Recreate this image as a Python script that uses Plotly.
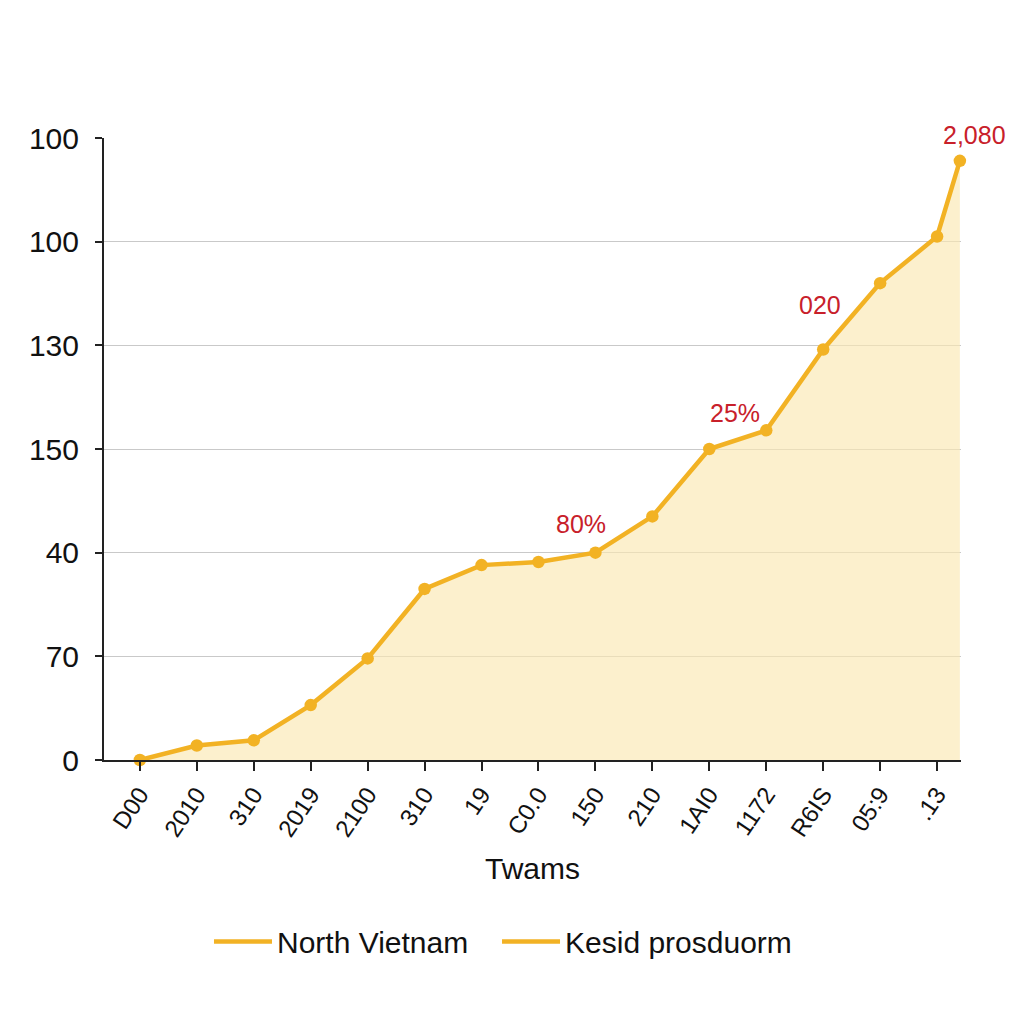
import plotly.graph_objects as go

# ---- data ----
x_pos = [0, 1, 2, 3, 4, 5, 6, 7, 8, 9, 10, 11, 12, 13, 14, 14.4]
values = [0, 14, 19, 53, 98, 165, 188, 191, 200, 235, 300, 318, 396, 460, 505, 578]
x_tick_vals = list(range(15))
x_tick_labels = ["D00", "2010", "310", "2019", "2100", "310", "19", "C0.0", "150",
                 "210", "1AI0", "1172", "R6IS", "05:9", ".13"]
y_tick_vals = [0, 100, 200, 300, 400, 500, 600]
y_tick_labels = ["0", "70", "40", "150", "130", "100", "100"]
legend_names = ["North Vietnam", "Kesid prosduorm"]
ann_text = ["80%", "25%", "020"]
ann_x = [7.75, 10.45, 11.95]
ann_y = [212, 319, 423]
top_label = "2,080"

LINE = "#F2B224"
FILL = "rgba(250,232,178,0.65)"
RED = "#C8202A"
FONT = "Liberation Sans, Arial, sans-serif"

fig = go.Figure()
fig.add_trace(go.Scatter(
    x=x_pos, y=values, mode="lines+markers",
    line=dict(color=LINE, width=4.5),
    marker=dict(color=LINE, size=12.5),
    fill="tozeroy", fillcolor=FILL,
    showlegend=False, hoverinfo="skip", cliponaxis=False,
))
legend_refs = ["legend", "legend2"]
for nm, lg in zip(legend_names, legend_refs):
    fig.add_trace(go.Scatter(x=[None], y=[None], mode="lines", name=nm, legend=lg,
                             line=dict(color=LINE, width=4.5)))

for t, ax_, ay_ in zip(ann_text, ann_x, ann_y):
    fig.add_annotation(x=ax_, y=ay_, text=t, showarrow=False,
                       font=dict(color=RED, size=25, family=FONT),
                       xanchor="center", yanchor="bottom")
fig.add_annotation(x=1.016, y=1.005, xref="paper", yref="paper", text=top_label,
                   showarrow=False, font=dict(color=RED, size=25, family=FONT),
                   xanchor="center", yanchor="middle")

legend_common = dict(orientation="h", xanchor="left", y=-0.25, yanchor="top",
                     font=dict(size=30, family=FONT), itemwidth=58,
                     bgcolor="rgba(0,0,0,0)")

fig.update_layout(
    width=1024, height=1024,
    paper_bgcolor="#FFFFFF", plot_bgcolor="#FFFFFF",
    margin=dict(l=96, r=71, t=130, b=272),
    font=dict(family=FONT, color="#111111"),
    legend=dict(x=0.1225, **legend_common),
    legend2=dict(x=0.4586, **legend_common),
    xaxis=dict(
        range=[-0.63, 14.42], tickmode="array", tickvals=x_tick_vals,
        ticktext=x_tick_labels, tickangle=-56,
        tickfont=dict(size=24, family=FONT, color="#111111"),
        showgrid=False, zeroline=False,
        showline=True, linecolor="#222222", linewidth=2,
        ticks="outside", ticklen=9, tickcolor="#222222", tickwidth=2,
        title=dict(text="Twams", font=dict(size=30, family=FONT), standoff=17),
    ),
    yaxis=dict(
        range=[0, 600], tickmode="array", tickvals=y_tick_vals,
        ticktext=y_tick_labels,
        tickfont=dict(size=30, family=FONT, color="#111111"),
        showgrid=True, gridcolor="#C9C9C9", gridwidth=1, zeroline=False,
        showline=True, linecolor="#222222", linewidth=2,
        ticks="outside", ticklen=7, tickcolor="#222222", tickwidth=1.5,
        ticklabelstandoff=10,
    ),
)

fig.write_html("out.html")
